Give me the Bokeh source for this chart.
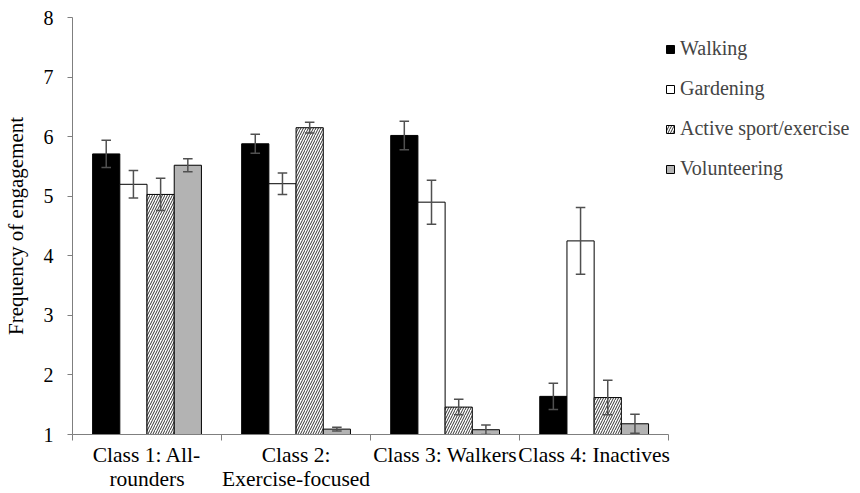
from bokeh.plotting import figure
from bokeh.models import Legend, LegendItem, FixedTicker, Range1d
from bokeh.embed import file_html
from bokeh.resources import INLINE

classes = ["Class 1: All-\nrounders", "Class 2:\nExercise-focused", "Class 3: Walkers", "Class 4: Inactives"]
activities = ["Walking", "Gardening", "Active sport/exercise", "Volunteering"]
walking = [5.71, 5.88, 6.02, 1.64]
walking_err = [0.23, 0.16, 0.24, 0.22]
gardening = [5.20, 5.21, 4.90, 4.25]
gardening_err = [0.23, 0.18, 0.37, 0.56]
active = [5.03, 6.15, 1.46, 1.62]
active_err = [0.27, 0.09, 0.13, 0.29]
volunteering = [5.52, 1.09, 1.08, 1.18]
volunteering_err = [0.11, 0.03, 0.08, 0.16]
y_ticks = [1, 2, 3, 4, 5, 6, 7, 8]

series = [walking, gardening, active, volunteering]
errors = [walking_err, gardening_err, active_err, volunteering_err]
styles = [
    dict(fill_color="black"),
    dict(fill_color="white"),
    dict(fill_color="white", hatch_pattern="/", hatch_color="#333333", hatch_scale=5, hatch_weight=1),
    dict(fill_color="#b3b3b3"),
]

FONT = "Liberation Serif"
n = len(classes)
p = figure(width=852, height=493, output_backend="svg", toolbar_location=None,
           x_range=Range1d(0, n * 785 / 600), y_range=Range1d(1, 8),
           min_border_left=67, min_border_right=0, min_border_top=17, min_border_bottom=58)
p.outline_line_color = None
p.xgrid.grid_line_color = None
p.ygrid.grid_line_color = None

bw = 0.1825
cap = 0.032
items = []
for j, (vals, errs, st) in enumerate(zip(series, errors, styles)):
    xs = [i + 0.5 + (j - 1.5) * bw for i in range(n)]
    r = p.vbar(x=xs, top=vals, bottom=1, width=bw, line_color="black", line_width=1, **st)
    items.append(LegendItem(label=activities[j], renderers=[r]))
    lo = [v - e for v, e in zip(vals, errs)]
    hi = [v + e for v, e in zip(vals, errs)]
    ec = "#505050"
    p.segment(x0=xs, y0=lo, x1=xs, y1=hi, line_color=ec, line_width=1.5)
    p.segment(x0=[x - cap for x in xs], y0=hi, x1=[x + cap for x in xs], y1=hi, line_color=ec, line_width=1.5)
    p.segment(x0=[x - cap for x in xs], y0=lo, x1=[x + cap for x in xs], y1=lo, line_color=ec, line_width=1.5)

xa = p.xaxis[0]
xa.bounds = (0, n)
xa.ticker = FixedTicker(ticks=[i + 0.5 for i in range(n)], minor_ticks=list(range(n + 1)))
xa.major_label_overrides = {i + 0.5: c for i, c in enumerate(classes)}
xa.major_tick_line_color = None
xa.minor_tick_line_color = "#7f7f7f"
xa.minor_tick_out = 6
xa.minor_tick_in = 0
xa.axis_line_color = "#7f7f7f"
xa.major_label_text_font = FONT
xa.major_label_text_font_size = "21.5px"
xa.major_label_text_line_height = 1.0
xa.major_label_text_color = "black"
xa.major_label_standoff = 2

ya = p.yaxis[0]
ya.ticker = FixedTicker(ticks=y_ticks)
ya.major_tick_out = 5
ya.major_tick_in = 0
ya.minor_tick_line_color = None
ya.major_tick_line_color = "#7f7f7f"
ya.axis_line_color = "#7f7f7f"
ya.major_label_text_font = FONT
ya.major_label_text_font_size = "20px"
ya.major_label_text_color = "black"
ya.major_label_standoff = 14
ya.axis_label = "Frequency of engagement"
ya.axis_label_text_font = FONT
ya.axis_label_text_font_size = "21px"
ya.axis_label_text_font_style = "normal"
ya.axis_label_text_color = "black"
ya.axis_label_standoff = 13

legend = Legend(items=items, location=(593, 254), label_text_font=FONT, label_text_font_size="20px",
                glyph_width=10, glyph_height=10, spacing=17, label_height=20, padding=0, margin=0,
                border_line_color=None, background_fill_alpha=0, label_standoff=5)
p.add_layout(legend, "center")

open("out.html", "w").write(file_html(p, INLINE))
